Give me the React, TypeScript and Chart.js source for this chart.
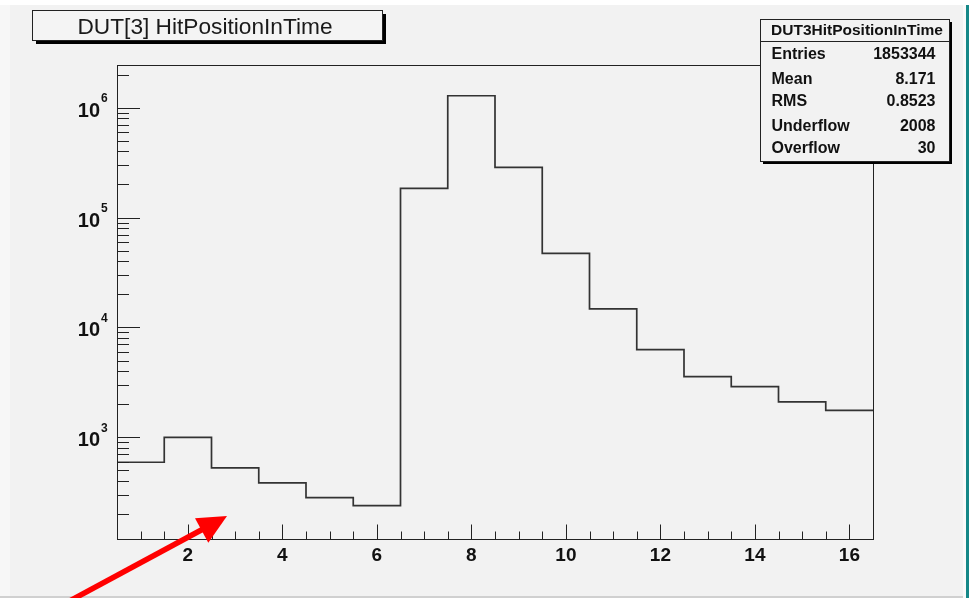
import React, { useEffect, useRef } from "react";
import { Chart, registerables } from "chart.js";

Chart.register(...registerables);

// ---- data ----
const binCenters = [1, 2, 3, 4, 5, 6, 7, 8, 9, 10, 11, 12, 13, 14, 15, 16];
const binCounts = [593, 1000, 526, 385, 282, 239, 184600, 1285000, 286400, 47300, 14760, 6270, 3560, 2890, 2100, 1760];
const binWidth = 1;
const xMin = 0.5;
const xMax = 16.5;
const yMin = 118.7;
const yMax = 2.447e6;
const xMajorTicks = [2, 4, 6, 8, 10, 12, 14, 16];
const xTickLabels = ["2", "4", "6", "8", "10", "12", "14", "16"];
const xMinorStep = 0.5;
const yDecades = [3, 4, 5, 6];
const histTitle = "DUT[3] HitPositionInTime";
const statsName = "DUT3HitPositionInTime";
const statsLabels = ["Entries", "Mean", "RMS", "Underflow", "Overflow"];
const statsValues = ["1853344", "8.171", "0.8523", "2008", "30"];

const W = 969;
const H = 598;
const BG = "#f2f2f2";
const FONT = "'Liberation Sans', Arial, Helvetica, sans-serif";

// histogram outline: left edge of each bin, plus the right edge of the last bin
const histPoints = [
  { x: binCenters[0] - binWidth / 2, y: binCounts[0] },
  ...binCenters.map((c, i) => ({ x: c + binWidth / 2, y: binCounts[i] })),
];

const bgPlugin = {
  id: "rootBg",
  beforeDraw(chart: any) {
    const ctx = chart.ctx;
    ctx.save();
    ctx.fillStyle = BG;
    ctx.fillRect(0, 0, W, H);
    ctx.fillStyle = "#ffffff";
    ctx.fillRect(0, 0, W, 5);
    ctx.fillStyle = "#f7f7f7";
    ctx.fillRect(0, 5, 10, H - 5);
    ctx.fillStyle = "#d0d0d0";
    ctx.fillRect(0, 596, W, 2);
    ctx.fillStyle = "#fafafa";
    ctx.fillRect(963, 5, 3, H - 5);
    ctx.fillStyle = "#168888";
    ctx.fillRect(966, 5, 3, H - 5);
    ctx.restore();
  },
};

const overlayPlugin = {
  id: "rootOverlay",
  afterDraw(chart: any) {
    const ctx = chart.ctx;
    const a = chart.chartArea;
    const xs = chart.scales.x;
    const ys = chart.scales.y;
    ctx.save();
    // frame
    ctx.strokeStyle = "#222";
    ctx.lineWidth = 1;
    ctx.strokeRect(Math.round(a.left) + 0.5, Math.round(a.top) + 0.5, Math.round(a.right - a.left), Math.round(a.bottom - a.top));

    // x ticks (inward)
    ctx.beginPath();
    for (let v = xMin + xMinorStep; v < xMax - 1e-9; v += xMinorStep) {
      const px = Math.round(xs.getPixelForValue(v)) + 0.5;
      const major = xMajorTicks.some((t) => Math.abs(t - v) < 1e-6);
      const len = major ? 14.5 : 7.5;
      ctx.moveTo(px, a.bottom);
      ctx.lineTo(px, a.bottom - len);
    }
    // y ticks (inward)
    for (let d = yDecades[0] - 1; d <= yDecades[yDecades.length - 1]; d++) {
      for (let m = 1; m <= 9; m++) {
        const v = m * Math.pow(10, d);
        if (v < yMin || v > yMax) continue;
        const py = Math.round(ys.getPixelForValue(v)) + 0.5;
        const len = m === 1 ? 23 : 12;
        ctx.moveTo(a.left, py);
        ctx.lineTo(a.left + len, py);
      }
    }
    ctx.stroke();

    // x labels
    ctx.fillStyle = "#111";
    ctx.font = `bold 19px ${FONT}`;
    ctx.textAlign = "center";
    ctx.textBaseline = "alphabetic";
    xMajorTicks.forEach((t, i) => {
      ctx.fillText(xTickLabels[i], xs.getPixelForValue(t), a.bottom + 22);
    });

    // y labels 10^n
    yDecades.forEach((d) => {
      const py = ys.getPixelForValue(Math.pow(10, d));
      ctx.font = `bold 20px ${FONT}`;
      ctx.textAlign = "right";
      ctx.fillText("10", 100, py + 9);
      ctx.font = `bold 12px ${FONT}`;
      ctx.textAlign = "left";
      ctx.fillText(String(d), 101, py - 5.5);
    });

    // title box
    const tb = { x: 32, y: 10, w: 350, h: 30 };
    ctx.fillStyle = "#000";
    ctx.fillRect(tb.x + 4, tb.y + 4, tb.w, tb.h);
    ctx.fillStyle = "#f4f4f4";
    ctx.fillRect(tb.x, tb.y, tb.w, tb.h);
    ctx.strokeStyle = "#222";
    ctx.strokeRect(tb.x + 0.5, tb.y + 0.5, tb.w, tb.h);
    ctx.fillStyle = "#1a1a1a";
    ctx.font = `22.7px ${FONT}`;
    ctx.textAlign = "center";
    ctx.fillText(histTitle, 205, 34.3);

    // stats box
    const sb = { x: 760, y: 19, w: 189, h: 142 };
    ctx.fillStyle = "#000";
    ctx.fillRect(sb.x + 3, sb.y + 3, sb.w, sb.h);
    ctx.fillStyle = BG;
    ctx.fillRect(sb.x, sb.y, sb.w, sb.h);
    ctx.strokeStyle = "#222";
    ctx.strokeRect(sb.x + 0.5, sb.y + 0.5, sb.w, sb.h);
    ctx.beginPath();
    ctx.moveTo(sb.x, 41.5);
    ctx.lineTo(sb.x + sb.w, 41.5);
    ctx.stroke();
    ctx.fillStyle = "#111";
    ctx.font = `bold 15.5px ${FONT}`;
    ctx.textAlign = "center";
    ctx.fillText(statsName, 857, 35);
    const rowBase = [59.3, 84.3, 106, 131, 153.3];
    ctx.font = `bold 16px ${FONT}`;
    statsLabels.forEach((l, i) => {
      ctx.textAlign = "left";
      ctx.fillText(l, 771.5, rowBase[i]);
      ctx.textAlign = "right";
      ctx.fillText(statsValues[i], 935.5, rowBase[i]);
    });

    // red arrow annotation
    ctx.strokeStyle = "#ff0000";
    ctx.fillStyle = "#ff0000";
    ctx.lineWidth = 5.5;
    ctx.lineCap = "butt";
    ctx.beginPath();
    ctx.moveTo(64, 604);
    ctx.lineTo(205, 528);
    ctx.stroke();
    ctx.beginPath();
    ctx.moveTo(227, 516);
    ctx.lineTo(195, 518.3);
    ctx.lineTo(208.3, 542.7);
    ctx.closePath();
    ctx.fill();
    ctx.restore();
  },
};

export default function App() {
  const ref = useRef<HTMLCanvasElement | null>(null);
  useEffect(() => {
    if (!ref.current) return;
    const chart = new Chart(ref.current, {
      type: "line",
      data: {
        datasets: [
          {
            data: histPoints,
            stepped: "after",
            borderColor: "#333333",
            borderWidth: 1.7,
            pointRadius: 0,
            fill: false,
          },
        ],
      },
      options: {
        animation: false,
        responsive: false,
        devicePixelRatio: 1,
        layout: { padding: { left: 117, right: W - 873, top: 65, bottom: H - 539 } },
        plugins: { legend: { display: false }, tooltip: { enabled: false }, title: { display: false } },
        scales: {
          x: { type: "linear", min: xMin, max: xMax, display: false },
          y: { type: "logarithmic", min: yMin, max: yMax, display: false },
        },
      },
      plugins: [bgPlugin, overlayPlugin],
    });
    return () => chart.destroy();
  }, []);
  return (
    <div style={{ position: "fixed", left: 0, top: 0, width: W, height: H }}>
      <canvas ref={ref} width={W} height={H} style={{ width: W, height: H, display: "block" }} />
    </div>
  );
}
